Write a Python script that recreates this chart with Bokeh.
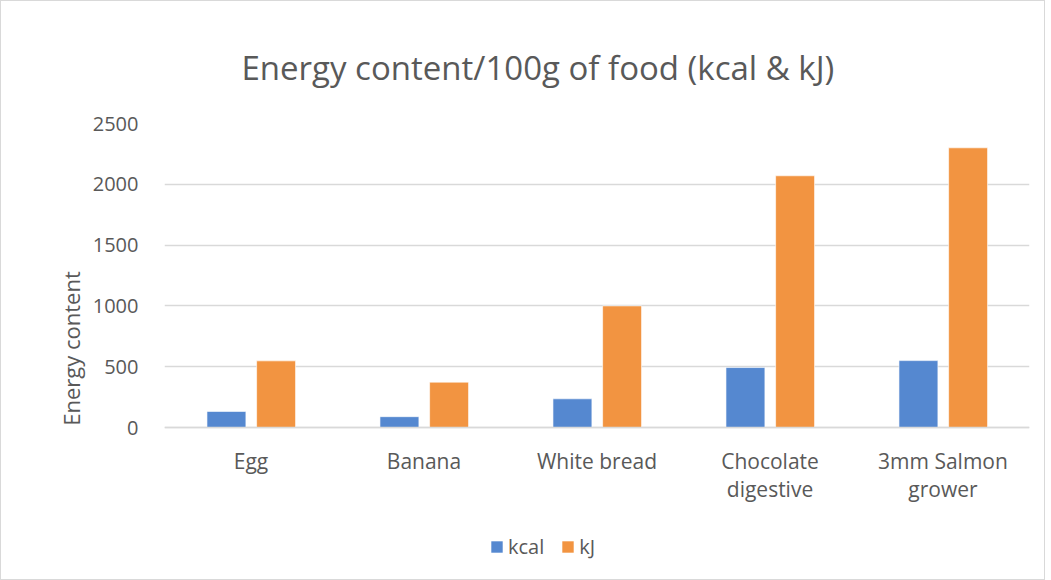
from bokeh.plotting import figure
from bokeh.models import ColumnDataSource, FactorRange, Legend, LegendItem, Range1d, FixedTicker, Title
from bokeh.transform import dodge
from bokeh.embed import file_html
from bokeh.resources import INLINE

foods = ["Egg", "Banana", "White bread", "Chocolate\ndigestive", "3mm Salmon\ngrower"]
kcal = [132, 89, 236, 493, 550]
kj = [548, 373, 1000, 2070, 2300]
y_ticks = [0, 500, 1000, 1500, 2000, 2500]
series_names = ["kcal", "kJ"]
colors = ["#5588d0", "#f29441"]

FONT = "Open Sans"
TXT = "#595959"

# frame extends below zero to leave room for the category labels and legend
FRAME_H = 450
ZERO_PX = 304  # pixel distance from 0 to 2500
y_top = y_ticks[-1]
y_bottom = -(FRAME_H - ZERO_PX) * y_top / ZERO_PX

src = ColumnDataSource(dict(food=foods, kcal=kcal, kj=kj))

p = figure(frame_width=865, frame_height=FRAME_H, output_backend="svg", toolbar_location=None,
           x_range=FactorRange(factors=foods, range_padding=0),
           y_range=Range1d(y_bottom, y_top),
           min_border_left=163, min_border_right=15, min_border_top=122, min_border_bottom=6)

p.title.text = "Energy content/100g of food (kcal & kJ)"
p.title.align = "left"
p.title.offset = 77
p.title.standoff = 67
p.title.text_font = FONT
p.title.text_font_size = "33px"
p.title.text_font_style = "normal"
p.title.text_color = TXT

r1 = p.vbar(x=dodge("food", -0.142, range=p.x_range), top="kcal", width=0.225, source=src,
            fill_color=colors[0], line_color="#ffffff", line_width=1, line_alpha=0.6)
r2 = p.vbar(x=dodge("food", 0.145, range=p.x_range), top="kj", width=0.225, source=src,
            fill_color=colors[1], line_color="#ffffff", line_width=1, line_alpha=0.6)

p.outline_line_color = None
p.xgrid.grid_line_color = None
p.ygrid.grid_line_color = "#d9d9d9"
p.ygrid.grid_line_width = 1.5

p.yaxis.ticker = FixedTicker(ticks=y_ticks)
p.yaxis.axis_line_color = None
p.yaxis.major_tick_line_color = None
p.yaxis.minor_tick_line_color = None
p.yaxis.major_label_text_font = FONT
p.yaxis.major_label_text_font_size = "20px"
p.yaxis.major_label_text_color = TXT
p.yaxis.major_label_standoff = 20

# y-axis title, shifted up so it sits beside the 0..2500 part of the frame
ytitle = Title(text="Energy content", align="center", offset=72, standoff=8,
               text_font=FONT, text_font_size="22px", text_font_style="normal",
               text_color=TXT)
p.add_layout(ytitle, "left")

p.xaxis.fixed_location = 0
p.xaxis.axis_line_color = "#d9d9d9"
p.xaxis.axis_line_width = 1.5
p.xaxis.major_tick_line_color = None
p.xaxis.minor_tick_line_color = None
p.xaxis.major_label_text_font = FONT
p.xaxis.major_label_text_font_size = "21px"
p.xaxis.major_label_text_line_height = 1.0
p.xaxis.major_label_text_color = TXT
p.xaxis.major_label_standoff = 13

legend = Legend(items=[LegendItem(label=series_names[0], renderers=[r1]),
                       LegendItem(label=series_names[1], renderers=[r2])],
                orientation="horizontal", location=(325, 13))
legend.label_text_font = FONT
legend.label_text_font_size = "20px"
legend.label_text_color = TXT
legend.glyph_width = 15
legend.glyph_height = 15
legend.label_standoff = 4
legend.spacing = 16
legend.border_line_color = None
legend.background_fill_alpha = 0
legend.margin = 0
legend.padding = 0
p.add_layout(legend, "center")

p.styles = {"border": "1px solid #d9d9d9"}

open("out.html", "w").write(file_html(p, INLINE))
